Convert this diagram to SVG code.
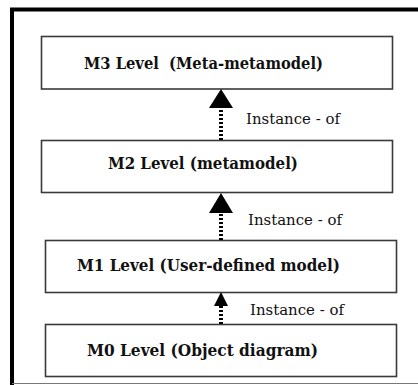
<svg xmlns="http://www.w3.org/2000/svg" width="418" height="385" viewBox="0 0 418 385">
<style>
.box{fill:#fff;stroke:#3a3a3a;stroke-width:1.6}
.lbl{font-family:"DejaVu Serif","Liberation Serif",serif;font-weight:bold;font-size:17px;fill:#111;white-space:pre}
.inst{font-family:"DejaVu Serif","Liberation Serif",serif;font-size:14px;fill:#111}
.shaft{stroke:#000;stroke-width:4;stroke-dasharray:2 2;fill:none}
.head{fill:#000}
</style>
<rect x="0" y="0" width="418" height="385" fill="#fff"/>
<g id="frame">
<line x1="10" y1="9.5" x2="418" y2="9.5" stroke="#000" stroke-width="4"/>
<line x1="12" y1="8" x2="12" y2="385" stroke="#000" stroke-width="4"/>
<line x1="12" y1="383.5" x2="418" y2="383.5" stroke="#777" stroke-width="1"/>
</g>
<g id="m3">
<rect class="box" x="41.5" y="36.5" width="351" height="52.5"/>
<text class="lbl" x="84" y="69" textLength="239" lengthAdjust="spacingAndGlyphs" xml:space="preserve">M3 Level  (Meta-metamodel)</text>
</g>
<g id="m2">
<rect class="box" x="41.5" y="140.5" width="351" height="52"/>
<text class="lbl" x="108" y="169" textLength="190" lengthAdjust="spacingAndGlyphs">M2 Level (metamodel)</text>
</g>
<g id="m1">
<rect class="box" x="45.5" y="240.5" width="351" height="52"/>
<text class="lbl" x="77" y="271" textLength="263" lengthAdjust="spacingAndGlyphs">M1 Level (User-defined model)</text>
</g>
<g id="m0">
<rect class="box" x="45.5" y="324.5" width="351" height="52"/>
<text class="lbl" x="87" y="356" textLength="231" lengthAdjust="spacingAndGlyphs">M0 Level (Object diagram)</text>
</g>
<g id="connectors">
<line class="shaft" x1="221" y1="140" x2="221" y2="106"/>
<polygon class="head" points="221,89 209,108 233,108"/>
<text class="inst" x="246" y="124" textLength="94" lengthAdjust="spacingAndGlyphs">Instance - of</text>
<line class="shaft" x1="221" y1="240" x2="221" y2="211"/>
<polygon class="head" points="221,193 209,213 233,213"/>
<text class="inst" x="248" y="225" textLength="94" lengthAdjust="spacingAndGlyphs">Instance - of</text>
<line class="shaft" x1="221" y1="324" x2="221" y2="306"/>
<polygon class="head" points="221,292 214,306 228,306"/>
<text class="inst" x="250" y="315" textLength="94" lengthAdjust="spacingAndGlyphs">Instance - of</text>
</g>
</svg>
